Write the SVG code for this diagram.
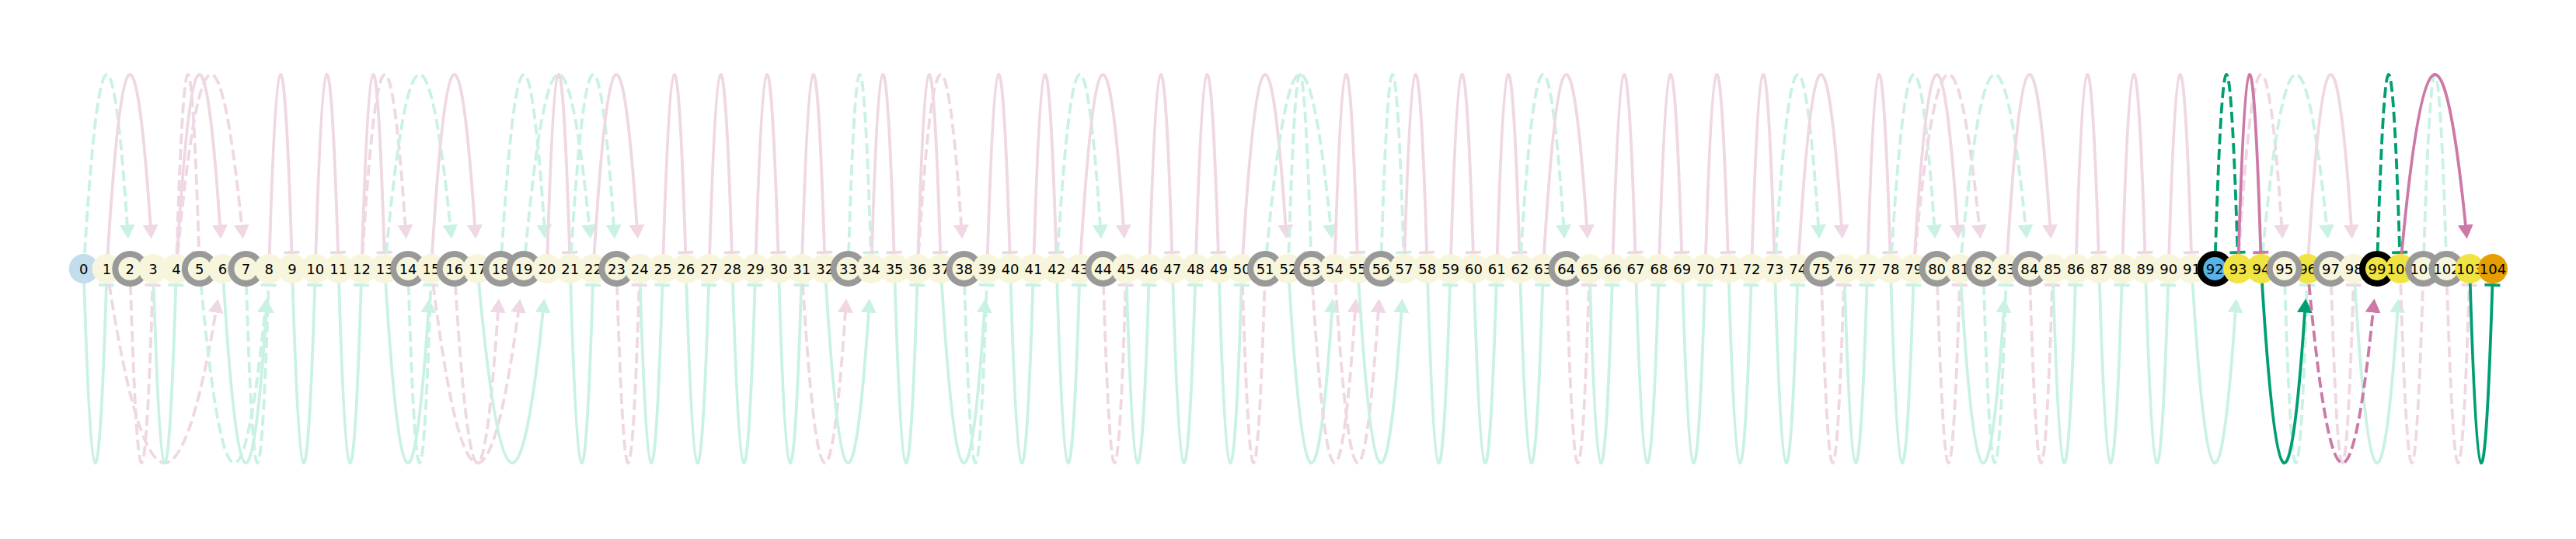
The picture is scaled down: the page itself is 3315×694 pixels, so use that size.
<svg xmlns="http://www.w3.org/2000/svg" width="3315" height="694" viewBox="0 0 3315 694">
<style>
.e{fill:none;stroke-width:3.8}
.d{stroke-dasharray:14 6}
.ga{stroke:#c9f1e4;marker-end:url(#mga)}
.gb{stroke:#c9f1e4;marker-end:url(#mgb)}
.pa{stroke:#efd7e4;marker-end:url(#mpa)}
.pb{stroke:#efd7e4;marker-end:url(#mpb)}
.dga{stroke:#009e73;marker-end:url(#mdga)}
.dgb{stroke:#009e73;marker-end:url(#mdgb)}
.dpa{stroke:#cc79a7;marker-end:url(#mdpa)}
.dpb{stroke:#cc79a7;marker-end:url(#mdpb)}
.c{fill:#f7f6dc}
.y{fill:#f0e442}
.b{fill:#56b4e9}
.lb{fill:#c2ddec}
.o{fill:#e69f00}
.rg{stroke:#999999;stroke-width:8}
.rk{stroke:#000000;stroke-width:8}
text{font-family:"DejaVu Sans",sans-serif;font-size:18px;text-anchor:middle;fill:#000}
</style>
<defs>
<marker id="mga" markerUnits="userSpaceOnUse" markerWidth="20" markerHeight="22" viewBox="0 -11 20 22" refX="0.5" refY="0" orient="auto"><path d="M0,-10L18,0L0,10z" fill="#c9f1e4"/></marker>
<marker id="mpa" markerUnits="userSpaceOnUse" markerWidth="20" markerHeight="22" viewBox="0 -11 20 22" refX="0.5" refY="0" orient="auto"><path d="M0,-10L18,0L0,10z" fill="#efd7e4"/></marker>
<marker id="mdga" markerUnits="userSpaceOnUse" markerWidth="20" markerHeight="22" viewBox="0 -11 20 22" refX="0.5" refY="0" orient="auto"><path d="M0,-10L18,0L0,10z" fill="#009e73"/></marker>
<marker id="mdpa" markerUnits="userSpaceOnUse" markerWidth="20" markerHeight="22" viewBox="0 -11 20 22" refX="0.5" refY="0" orient="auto"><path d="M0,-10L18,0L0,10z" fill="#cc79a7"/></marker>
<marker id="mgb" markerUnits="userSpaceOnUse" markerWidth="6" markerHeight="24" viewBox="-3 -12 6 24" refX="0" refY="0" orient="auto"><path d="M0,-10V10" stroke="#c9f1e4" stroke-width="3.8" stroke-dasharray="none"/></marker>
<marker id="mpb" markerUnits="userSpaceOnUse" markerWidth="6" markerHeight="24" viewBox="-3 -12 6 24" refX="0" refY="0" orient="auto"><path d="M0,-10V10" stroke="#efd7e4" stroke-width="3.8" stroke-dasharray="none"/></marker>
<marker id="mdgb" markerUnits="userSpaceOnUse" markerWidth="6" markerHeight="24" viewBox="-3 -12 6 24" refX="0" refY="0" orient="auto"><path d="M0,-10V10" stroke="#009e73" stroke-width="3.8" stroke-dasharray="none"/></marker>
<marker id="mdpb" markerUnits="userSpaceOnUse" markerWidth="6" markerHeight="24" viewBox="-3 -12 6 24" refX="0" refY="0" orient="auto"><path d="M0,-10V10" stroke="#cc79a7" stroke-width="3.8" stroke-dasharray="none"/></marker>
</defs>
<rect width="3315" height="694" fill="#ffffff"/>
<g id="edges">
<path class="e ga d" d="M107.7 346Q135.7 -124.2 163.8 290"/>
<path class="e pa" d="M137.5 346Q165.5 -124.2 193.6 290"/>
<path class="e pb d" d="M226.9 346Q241.5 -143.3 256.1 325"/>
<path class="e pa" d="M226.9 346Q254.9 -124.2 283 290"/>
<path class="e pa d" d="M226.9 346Q269 -124.2 311 290"/>
<path class="e pb" d="M346.2 346Q360.8 -143.3 375.4 325"/>
<path class="e pb" d="M405.8 346Q420.4 -143.3 435 325"/>
<path class="e pb" d="M465.4 346Q480 -143.3 494.6 325"/>
<path class="e pa d" d="M465.4 346Q493.4 -124.2 521.5 290"/>
<path class="e ga d" d="M495.2 346Q537.3 -124.2 579.3 290"/>
<path class="e pa" d="M554.9 346Q582.9 -124.2 611 290"/>
<path class="e ga d" d="M644.3 346Q672.3 -124.2 700.4 290"/>
<path class="e ga d" d="M674.1 346Q716.2 -124.2 758.2 290"/>
<path class="e pb" d="M703.9 346Q718.5 -143.3 733.1 325"/>
<path class="e ga d" d="M733.7 346Q761.7 -124.2 789.8 290"/>
<path class="e pa" d="M763.5 346Q791.5 -124.2 819.6 290"/>
<path class="e pb" d="M853 346Q867.6 -143.3 882.2 325"/>
<path class="e pb" d="M912.6 346Q927.2 -143.3 941.8 325"/>
<path class="e pb" d="M972.2 346Q986.8 -143.3 1001.4 325"/>
<path class="e pb" d="M1031.8 346Q1046.4 -143.3 1061 325"/>
<path class="e gb d" d="M1091.5 346Q1106.1 -143.3 1120.7 325"/>
<path class="e pb" d="M1121.3 346Q1135.9 -143.3 1150.5 325"/>
<path class="e pb" d="M1180.9 346Q1195.5 -143.3 1210.1 325"/>
<path class="e pa d" d="M1180.9 346Q1208.9 -124.2 1237 290"/>
<path class="e pb" d="M1270.3 346Q1284.9 -143.3 1299.5 325"/>
<path class="e pb" d="M1330 346Q1344.6 -143.3 1359.2 325"/>
<path class="e ga d" d="M1359.8 346Q1387.8 -124.2 1415.9 290"/>
<path class="e pa" d="M1389.6 346Q1417.6 -124.2 1445.7 290"/>
<path class="e pb" d="M1479 346Q1493.6 -143.3 1508.2 325"/>
<path class="e pb" d="M1538.6 346Q1553.2 -143.3 1567.8 325"/>
<path class="e pa" d="M1598.3 346Q1626.3 -124.2 1654.4 290"/>
<path class="e ga d" d="M1628.1 346Q1670.2 -124.2 1712.2 290"/>
<path class="e gb d" d="M1657.9 346Q1672.5 -143.3 1687.1 325"/>
<path class="e pb" d="M1717.5 346Q1732.1 -143.3 1746.7 325"/>
<path class="e gb d" d="M1777.1 346Q1791.7 -143.3 1806.3 325"/>
<path class="e pb" d="M1806.9 346Q1821.5 -143.3 1836.1 325"/>
<path class="e pb" d="M1866.6 346Q1881.2 -143.3 1895.8 325"/>
<path class="e pb" d="M1926.2 346Q1940.8 -143.3 1955.4 325"/>
<path class="e ga d" d="M1956 346Q1984 -124.2 2012.1 290"/>
<path class="e pa" d="M1985.8 346Q2013.8 -124.2 2041.9 290"/>
<path class="e pb" d="M2075.2 346Q2089.8 -143.3 2104.4 325"/>
<path class="e pb" d="M2134.9 346Q2149.5 -143.3 2164.1 325"/>
<path class="e pb" d="M2194.5 346Q2209.1 -143.3 2223.7 325"/>
<path class="e pb" d="M2254.1 346Q2268.7 -143.3 2283.3 325"/>
<path class="e ga d" d="M2283.9 346Q2311.9 -124.2 2340 290"/>
<path class="e pa" d="M2313.7 346Q2341.7 -124.2 2369.8 290"/>
<path class="e pb" d="M2403.2 346Q2417.8 -143.3 2432.4 325"/>
<path class="e ga d" d="M2433 346Q2461 -124.2 2489.1 290"/>
<path class="e pa" d="M2462.8 346Q2490.8 -124.2 2518.9 290"/>
<path class="e pa d" d="M2462.8 346Q2504.9 -124.2 2546.9 290"/>
<path class="e ga d" d="M2522.4 346Q2564.5 -124.2 2606.5 290"/>
<path class="e pa" d="M2582 346Q2610 -124.2 2638.1 290"/>
<path class="e pb" d="M2671.4 346Q2686 -143.3 2700.6 325"/>
<path class="e pb" d="M2731.1 346Q2745.7 -143.3 2760.3 325"/>
<path class="e pb" d="M2790.7 346Q2805.3 -143.3 2819.9 325"/>
<path class="e pa d" d="M2880.1 346Q2908.1 -124.2 2936.2 290"/>
<path class="e ga d" d="M2909.9 346Q2952 -124.2 2994 290"/>
<path class="e pa" d="M2969.6 346Q2997.6 -124.2 3025.7 290"/>
<path class="e gb d" d="M3118.6 346Q3133.2 -143.3 3147.8 325"/>
<path class="e gb" d="M107.7 346Q122.3 835.3 136.9 367"/>
<path class="e pa d" d="M137.5 346Q207.6 816.2 277.7 402"/>
<path class="e pb d" d="M167.3 346Q181.9 835.3 196.5 367"/>
<path class="e gb" d="M197.1 346Q211.7 835.3 226.3 367"/>
<path class="e ga d" d="M256.8 346Q298.9 816.2 340.9 402"/>
<path class="e ga" d="M286.6 346Q314.6 816.2 342.7 402"/>
<path class="e gb d" d="M316.4 346Q331 835.3 345.6 367"/>
<path class="e gb" d="M376 346Q390.6 835.3 405.2 367"/>
<path class="e gb" d="M435.6 346Q450.2 835.3 464.8 367"/>
<path class="e ga" d="M495.2 346Q523.2 816.2 551.3 402"/>
<path class="e gb d" d="M525.1 346Q539.7 835.3 554.3 367"/>
<path class="e pa d" d="M554.9 346Q611 816.2 667 402"/>
<path class="e pa d" d="M584.7 346Q612.7 816.2 640.8 402"/>
<path class="e ga" d="M614.5 346Q656.6 816.2 698.6 402"/>
<path class="e gb" d="M733.7 346Q748.3 835.3 762.9 367"/>
<path class="e pb d" d="M793.4 346Q808 835.3 822.6 367"/>
<path class="e gb" d="M823.2 346Q837.8 835.3 852.4 367"/>
<path class="e gb" d="M882.8 346Q897.4 835.3 912 367"/>
<path class="e gb" d="M942.4 346Q957 835.3 971.6 367"/>
<path class="e gb" d="M1002 346Q1016.6 835.3 1031.2 367"/>
<path class="e pa d" d="M1031.8 346Q1059.8 816.2 1087.9 402"/>
<path class="e ga" d="M1061.7 346Q1089.7 816.2 1117.8 402"/>
<path class="e gb" d="M1151.1 346Q1165.7 835.3 1180.3 367"/>
<path class="e ga" d="M1210.7 346Q1238.7 816.2 1266.8 402"/>
<path class="e gb d" d="M1240.5 346Q1255.1 835.3 1269.7 367"/>
<path class="e gb" d="M1300.1 346Q1314.7 835.3 1329.3 367"/>
<path class="e gb" d="M1359.8 346Q1374.4 835.3 1389 367"/>
<path class="e pb d" d="M1419.4 346Q1434 835.3 1448.6 367"/>
<path class="e gb" d="M1449.2 346Q1463.8 835.3 1478.4 367"/>
<path class="e gb" d="M1508.8 346Q1523.4 835.3 1538 367"/>
<path class="e gb" d="M1568.4 346Q1583 835.3 1597.6 367"/>
<path class="e pb d" d="M1598.3 346Q1612.9 835.3 1627.5 367"/>
<path class="e ga" d="M1657.9 346Q1685.9 816.2 1714 402"/>
<path class="e pa d" d="M1687.7 346Q1715.7 816.2 1743.8 402"/>
<path class="e pa d" d="M1717.5 346Q1745.5 816.2 1773.6 402"/>
<path class="e ga" d="M1747.3 346Q1775.3 816.2 1803.4 402"/>
<path class="e gb" d="M1836.7 346Q1851.3 835.3 1865.9 367"/>
<path class="e gb" d="M1896.4 346Q1911 835.3 1925.6 367"/>
<path class="e gb" d="M1956 346Q1970.6 835.3 1985.2 367"/>
<path class="e pb d" d="M2015.6 346Q2030.2 835.3 2044.8 367"/>
<path class="e gb" d="M2045.4 346Q2060 835.3 2074.6 367"/>
<path class="e gb" d="M2105 346Q2119.6 835.3 2134.2 367"/>
<path class="e gb" d="M2164.7 346Q2179.3 835.3 2193.9 367"/>
<path class="e gb" d="M2224.3 346Q2238.9 835.3 2253.5 367"/>
<path class="e gb" d="M2283.9 346Q2298.5 835.3 2313.1 367"/>
<path class="e pb d" d="M2343.5 346Q2358.1 835.3 2372.7 367"/>
<path class="e gb" d="M2373.3 346Q2387.9 835.3 2402.5 367"/>
<path class="e gb" d="M2433 346Q2447.6 835.3 2462.2 367"/>
<path class="e pb d" d="M2492.6 346Q2507.2 835.3 2521.8 367"/>
<path class="e ga" d="M2522.4 346Q2550.4 816.2 2578.5 402"/>
<path class="e gb d" d="M2552.2 346Q2566.8 835.3 2581.4 367"/>
<path class="e pb d" d="M2611.8 346Q2626.4 835.3 2641 367"/>
<path class="e gb" d="M2641.6 346Q2656.2 835.3 2670.8 367"/>
<path class="e gb" d="M2701.3 346Q2715.9 835.3 2730.5 367"/>
<path class="e gb" d="M2760.9 346Q2775.5 835.3 2790.1 367"/>
<path class="e ga" d="M2820.5 346Q2848.5 816.2 2876.6 402"/>
<path class="e gb d" d="M2939.7 346Q2954.3 835.3 2968.9 367"/>
<path class="e pb d" d="M2999.4 346Q3014 835.3 3028.6 367"/>
<path class="e ga" d="M3029.2 346Q3057.2 816.2 3085.3 402"/>
<path class="e pb d" d="M3088.8 346Q3103.4 835.3 3118 367"/>
<path class="e pb d" d="M3148.4 346Q3163 835.3 3177.6 367"/>
<path class="e dgb d" d="M2850.3 346Q2864.9 -143.3 2879.5 325"/>
<path class="e dpb" d="M2880.1 346Q2894.7 -143.3 2909.3 325"/>
<path class="e dgb d" d="M3059 346Q3073.6 -143.3 3088.2 325"/>
<path class="e dpa" d="M3088.8 346Q3130.9 -124.2 3172.9 290"/>
<path class="e dga" d="M2909.9 346Q2937.9 816.2 2966 402"/>
<path class="e dpa d" d="M2969.6 346Q3011.7 816.2 3053.7 402"/>
<path class="e dgb" d="M3178.2 346Q3192.8 835.3 3207.4 367"/>
</g>
<g id="nodes">
<g id="n0"><circle class="lb" cx="107.7" cy="346" r="19"/><text x="107.7" y="352.6">0</text></g>
<g id="n1"><circle class="c" cx="137.5" cy="346" r="19"/><text x="137.5" y="352.6">1</text></g>
<g id="n2"><circle class="c rg" cx="167.3" cy="346" r="19"/><text x="167.3" y="352.6">2</text></g>
<g id="n3"><circle class="c" cx="197.1" cy="346" r="19"/><text x="197.1" y="352.6">3</text></g>
<g id="n4"><circle class="c" cx="226.9" cy="346" r="19"/><text x="226.9" y="352.6">4</text></g>
<g id="n5"><circle class="c rg" cx="256.8" cy="346" r="19"/><text x="256.8" y="352.6">5</text></g>
<g id="n6"><circle class="c" cx="286.6" cy="346" r="19"/><text x="286.6" y="352.6">6</text></g>
<g id="n7"><circle class="c rg" cx="316.4" cy="346" r="19"/><text x="316.4" y="352.6">7</text></g>
<g id="n8"><circle class="c" cx="346.2" cy="346" r="19"/><text x="346.2" y="352.6">8</text></g>
<g id="n9"><circle class="c" cx="376" cy="346" r="19"/><text x="376" y="352.6">9</text></g>
<g id="n10"><circle class="c" cx="405.8" cy="346" r="19"/><text x="405.8" y="352.6">10</text></g>
<g id="n11"><circle class="c" cx="435.6" cy="346" r="19"/><text x="435.6" y="352.6">11</text></g>
<g id="n12"><circle class="c" cx="465.4" cy="346" r="19"/><text x="465.4" y="352.6">12</text></g>
<g id="n13"><circle class="c" cx="495.2" cy="346" r="19"/><text x="495.2" y="352.6">13</text></g>
<g id="n14"><circle class="c rg" cx="525.1" cy="346" r="19"/><text x="525.1" y="352.6">14</text></g>
<g id="n15"><circle class="c" cx="554.9" cy="346" r="19"/><text x="554.9" y="352.6">15</text></g>
<g id="n16"><circle class="c rg" cx="584.7" cy="346" r="19"/><text x="584.7" y="352.6">16</text></g>
<g id="n17"><circle class="c" cx="614.5" cy="346" r="19"/><text x="614.5" y="352.6">17</text></g>
<g id="n18"><circle class="c rg" cx="644.3" cy="346" r="19"/><text x="644.3" y="352.6">18</text></g>
<g id="n19"><circle class="c rg" cx="674.1" cy="346" r="19"/><text x="674.1" y="352.6">19</text></g>
<g id="n20"><circle class="c" cx="703.9" cy="346" r="19"/><text x="703.9" y="352.6">20</text></g>
<g id="n21"><circle class="c" cx="733.7" cy="346" r="19"/><text x="733.7" y="352.6">21</text></g>
<g id="n22"><circle class="c" cx="763.5" cy="346" r="19"/><text x="763.5" y="352.6">22</text></g>
<g id="n23"><circle class="c rg" cx="793.4" cy="346" r="19"/><text x="793.4" y="352.6">23</text></g>
<g id="n24"><circle class="c" cx="823.2" cy="346" r="19"/><text x="823.2" y="352.6">24</text></g>
<g id="n25"><circle class="c" cx="853" cy="346" r="19"/><text x="853" y="352.6">25</text></g>
<g id="n26"><circle class="c" cx="882.8" cy="346" r="19"/><text x="882.8" y="352.6">26</text></g>
<g id="n27"><circle class="c" cx="912.6" cy="346" r="19"/><text x="912.6" y="352.6">27</text></g>
<g id="n28"><circle class="c" cx="942.4" cy="346" r="19"/><text x="942.4" y="352.6">28</text></g>
<g id="n29"><circle class="c" cx="972.2" cy="346" r="19"/><text x="972.2" y="352.6">29</text></g>
<g id="n30"><circle class="c" cx="1002" cy="346" r="19"/><text x="1002" y="352.6">30</text></g>
<g id="n31"><circle class="c" cx="1031.8" cy="346" r="19"/><text x="1031.8" y="352.6">31</text></g>
<g id="n32"><circle class="c" cx="1061.7" cy="346" r="19"/><text x="1061.7" y="352.6">32</text></g>
<g id="n33"><circle class="c rg" cx="1091.5" cy="346" r="19"/><text x="1091.5" y="352.6">33</text></g>
<g id="n34"><circle class="c" cx="1121.3" cy="346" r="19"/><text x="1121.3" y="352.6">34</text></g>
<g id="n35"><circle class="c" cx="1151.1" cy="346" r="19"/><text x="1151.1" y="352.6">35</text></g>
<g id="n36"><circle class="c" cx="1180.9" cy="346" r="19"/><text x="1180.9" y="352.6">36</text></g>
<g id="n37"><circle class="c" cx="1210.7" cy="346" r="19"/><text x="1210.7" y="352.6">37</text></g>
<g id="n38"><circle class="c rg" cx="1240.5" cy="346" r="19"/><text x="1240.5" y="352.6">38</text></g>
<g id="n39"><circle class="c" cx="1270.3" cy="346" r="19"/><text x="1270.3" y="352.6">39</text></g>
<g id="n40"><circle class="c" cx="1300.1" cy="346" r="19"/><text x="1300.1" y="352.6">40</text></g>
<g id="n41"><circle class="c" cx="1330" cy="346" r="19"/><text x="1330" y="352.6">41</text></g>
<g id="n42"><circle class="c" cx="1359.8" cy="346" r="19"/><text x="1359.8" y="352.6">42</text></g>
<g id="n43"><circle class="c" cx="1389.6" cy="346" r="19"/><text x="1389.6" y="352.6">43</text></g>
<g id="n44"><circle class="c rg" cx="1419.4" cy="346" r="19"/><text x="1419.4" y="352.6">44</text></g>
<g id="n45"><circle class="c" cx="1449.2" cy="346" r="19"/><text x="1449.2" y="352.6">45</text></g>
<g id="n46"><circle class="c" cx="1479" cy="346" r="19"/><text x="1479" y="352.6">46</text></g>
<g id="n47"><circle class="c" cx="1508.8" cy="346" r="19"/><text x="1508.8" y="352.6">47</text></g>
<g id="n48"><circle class="c" cx="1538.6" cy="346" r="19"/><text x="1538.6" y="352.6">48</text></g>
<g id="n49"><circle class="c" cx="1568.4" cy="346" r="19"/><text x="1568.4" y="352.6">49</text></g>
<g id="n50"><circle class="c" cx="1598.3" cy="346" r="19"/><text x="1598.3" y="352.6">50</text></g>
<g id="n51"><circle class="c rg" cx="1628.1" cy="346" r="19"/><text x="1628.1" y="352.6">51</text></g>
<g id="n52"><circle class="c" cx="1657.9" cy="346" r="19"/><text x="1657.9" y="352.6">52</text></g>
<g id="n53"><circle class="c rg" cx="1687.7" cy="346" r="19"/><text x="1687.7" y="352.6">53</text></g>
<g id="n54"><circle class="c" cx="1717.5" cy="346" r="19"/><text x="1717.5" y="352.6">54</text></g>
<g id="n55"><circle class="c" cx="1747.3" cy="346" r="19"/><text x="1747.3" y="352.6">55</text></g>
<g id="n56"><circle class="c rg" cx="1777.1" cy="346" r="19"/><text x="1777.1" y="352.6">56</text></g>
<g id="n57"><circle class="c" cx="1806.9" cy="346" r="19"/><text x="1806.9" y="352.6">57</text></g>
<g id="n58"><circle class="c" cx="1836.7" cy="346" r="19"/><text x="1836.7" y="352.6">58</text></g>
<g id="n59"><circle class="c" cx="1866.6" cy="346" r="19"/><text x="1866.6" y="352.6">59</text></g>
<g id="n60"><circle class="c" cx="1896.4" cy="346" r="19"/><text x="1896.4" y="352.6">60</text></g>
<g id="n61"><circle class="c" cx="1926.2" cy="346" r="19"/><text x="1926.2" y="352.6">61</text></g>
<g id="n62"><circle class="c" cx="1956" cy="346" r="19"/><text x="1956" y="352.6">62</text></g>
<g id="n63"><circle class="c" cx="1985.8" cy="346" r="19"/><text x="1985.8" y="352.6">63</text></g>
<g id="n64"><circle class="c rg" cx="2015.6" cy="346" r="19"/><text x="2015.6" y="352.6">64</text></g>
<g id="n65"><circle class="c" cx="2045.4" cy="346" r="19"/><text x="2045.4" y="352.6">65</text></g>
<g id="n66"><circle class="c" cx="2075.2" cy="346" r="19"/><text x="2075.2" y="352.6">66</text></g>
<g id="n67"><circle class="c" cx="2105" cy="346" r="19"/><text x="2105" y="352.6">67</text></g>
<g id="n68"><circle class="c" cx="2134.9" cy="346" r="19"/><text x="2134.9" y="352.6">68</text></g>
<g id="n69"><circle class="c" cx="2164.7" cy="346" r="19"/><text x="2164.7" y="352.6">69</text></g>
<g id="n70"><circle class="c" cx="2194.5" cy="346" r="19"/><text x="2194.5" y="352.6">70</text></g>
<g id="n71"><circle class="c" cx="2224.3" cy="346" r="19"/><text x="2224.3" y="352.6">71</text></g>
<g id="n72"><circle class="c" cx="2254.1" cy="346" r="19"/><text x="2254.1" y="352.6">72</text></g>
<g id="n73"><circle class="c" cx="2283.9" cy="346" r="19"/><text x="2283.9" y="352.6">73</text></g>
<g id="n74"><circle class="c" cx="2313.7" cy="346" r="19"/><text x="2313.7" y="352.6">74</text></g>
<g id="n75"><circle class="c rg" cx="2343.5" cy="346" r="19"/><text x="2343.5" y="352.6">75</text></g>
<g id="n76"><circle class="c" cx="2373.3" cy="346" r="19"/><text x="2373.3" y="352.6">76</text></g>
<g id="n77"><circle class="c" cx="2403.2" cy="346" r="19"/><text x="2403.2" y="352.6">77</text></g>
<g id="n78"><circle class="c" cx="2433" cy="346" r="19"/><text x="2433" y="352.6">78</text></g>
<g id="n79"><circle class="c" cx="2462.8" cy="346" r="19"/><text x="2462.8" y="352.6">79</text></g>
<g id="n80"><circle class="c rg" cx="2492.6" cy="346" r="19"/><text x="2492.6" y="352.6">80</text></g>
<g id="n81"><circle class="c" cx="2522.4" cy="346" r="19"/><text x="2522.4" y="352.6">81</text></g>
<g id="n82"><circle class="c rg" cx="2552.2" cy="346" r="19"/><text x="2552.2" y="352.6">82</text></g>
<g id="n83"><circle class="c" cx="2582" cy="346" r="19"/><text x="2582" y="352.6">83</text></g>
<g id="n84"><circle class="c rg" cx="2611.8" cy="346" r="19"/><text x="2611.8" y="352.6">84</text></g>
<g id="n85"><circle class="c" cx="2641.6" cy="346" r="19"/><text x="2641.6" y="352.6">85</text></g>
<g id="n86"><circle class="c" cx="2671.4" cy="346" r="19"/><text x="2671.4" y="352.6">86</text></g>
<g id="n87"><circle class="c" cx="2701.3" cy="346" r="19"/><text x="2701.3" y="352.6">87</text></g>
<g id="n88"><circle class="c" cx="2731.1" cy="346" r="19"/><text x="2731.1" y="352.6">88</text></g>
<g id="n89"><circle class="c" cx="2760.9" cy="346" r="19"/><text x="2760.9" y="352.6">89</text></g>
<g id="n90"><circle class="c" cx="2790.7" cy="346" r="19"/><text x="2790.7" y="352.6">90</text></g>
<g id="n91"><circle class="c" cx="2820.5" cy="346" r="19"/><text x="2820.5" y="352.6">91</text></g>
<g id="n92"><circle class="b rk" cx="2850.3" cy="346" r="19"/><text x="2850.3" y="352.6">92</text></g>
<g id="n93"><circle class="y" cx="2880.1" cy="346" r="19"/><text x="2880.1" y="352.6">93</text></g>
<g id="n94"><circle class="y" cx="2909.9" cy="346" r="19"/><text x="2909.9" y="352.6">94</text></g>
<g id="n96"><circle class="y" cx="2969.6" cy="346" r="19"/><text x="2969.6" y="352.6">96</text></g>
<g id="n95"><circle class="c rg" cx="2939.7" cy="346" r="19"/><text x="2939.7" y="352.6">95</text></g>
<g id="n97"><circle class="c rg" cx="2999.4" cy="346" r="19"/><text x="2999.4" y="352.6">97</text></g>
<g id="n98"><circle class="c" cx="3029.2" cy="346" r="19"/><text x="3029.2" y="352.6">98</text></g>
<g id="n99"><circle class="y rk" cx="3059" cy="346" r="19"/><text x="3059" y="352.6">99</text></g>
<g id="n100"><circle class="y" cx="3088.8" cy="346" r="19"/><text x="3088.8" y="352.6">100</text></g>
<g id="n101"><circle class="c rg" cx="3118.6" cy="346" r="19"/><text x="3118.6" y="352.6">101</text></g>
<g id="n102"><circle class="c rg" cx="3148.4" cy="346" r="19"/><text x="3148.4" y="352.6">102</text></g>
<g id="n103"><circle class="y" cx="3178.2" cy="346" r="19"/><text x="3178.2" y="352.6">103</text></g>
<g id="n104"><circle class="o" cx="3208" cy="346" r="19"/><text x="3208" y="352.6">104</text></g>
</g>
</svg>
